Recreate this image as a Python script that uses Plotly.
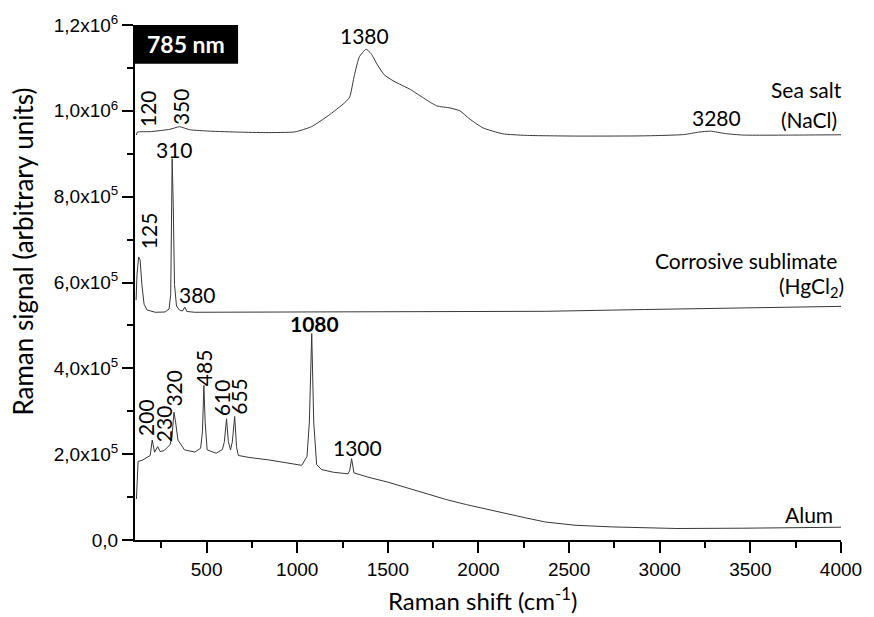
import plotly.graph_objects as go

# ---- Raman spectra (785 nm excitation), offset for display ----
sea_salt_shift = [113, 118, 189, 298, 350, 407, 516, 680, 827, 989, 1080, 1171, 1262, 1289,
                  1316, 1343, 1380, 1407, 1443, 1480, 1534, 1625, 1698, 1770, 1843, 1897,
                  1952, 2025, 2134, 2261, 2534, 2915, 3133, 3215, 3280, 3362, 3460, 3733, 4000]
sea_salt_signal = [943500, 950400, 951500, 957000, 963000, 956000, 952700, 950400, 949300,
                   951000, 963500, 988600, 1019000, 1032000, 1084000, 1126000, 1143500,
                   1133600, 1106800, 1084000, 1068800, 1049600, 1029500, 1011500, 1006700,
                   1000100, 980900, 960200, 946500, 942800, 941200, 941700, 944700, 950400,
                   952700, 947000, 943500, 943500, 944200]

hgcl2_shift = [111, 116, 125, 133, 143, 155, 172, 217, 271, 293, 302, 306, 310, 316, 323,
               334, 350, 367, 380, 391, 435, 1007, 1552, 2370, 2915, 3460, 4000]
hgcl2_signal = [558800, 618300, 659500, 652700, 595400, 549600, 535900, 530600, 531300,
                538200, 572500, 709900, 888500, 778600, 595400, 545000, 535900, 533600,
                542700, 532500, 530600, 531300, 532500, 532900, 537000, 540500, 544400]

alum_shift = [113, 122, 144, 189, 200, 213, 230, 244, 266, 298, 309, 320, 329, 342, 378,
              435, 467, 477, 485, 492, 503, 553, 587, 598, 610, 620, 632, 642, 655, 665,
              675, 734, 843, 953, 1025, 1054, 1067, 1080, 1091, 1107, 1134, 1198, 1280,
              1290, 1300, 1313, 1389, 1498, 1607, 1716, 1825, 1934, 2097, 2261, 2370,
              2533, 2735, 3095, 3460, 4000]
alum_signal = [95600, 183200, 185500, 197000, 232900, 204500, 217600, 206100, 208400,
               222100, 240500, 297700, 274800, 232900, 210000, 205000, 213700, 251900,
               360200, 274800, 210000, 202200, 210700, 229000, 282400, 229000, 210000,
               229000, 287900, 217600, 197000, 192400, 186600, 179800, 174000, 194700,
               274800, 480900, 274800, 175700, 164200, 158000, 154100, 162600, 189400,
               156400, 146600, 135100, 121400, 106900, 93900, 82400, 66400, 51500, 41900,
               34400, 30500, 26800, 27500, 29800]

x_tick_values = [500, 1000, 1500, 2000, 2500, 3000, 3500, 4000]
x_tick_labels = ["500", "1000", "1500", "2000", "2500", "3000", "3500", "4000"]
y_tick_values = [0, 200000, 400000, 600000, 800000, 1000000, 1200000]
y_tick_labels = ["0,0", "2,0x10<sup>5</sup>", "4,0x10<sup>5</sup>", "6,0x10<sup>5</sup>",
                 "8,0x10<sup>5</sup>", "1,0x10<sup>6</sup>", "1,2x10<sup>6</sup>"]

LINE = dict(color="#383838", width=1.0)
LABEL_FONT = dict(family="Lato, 'Open Sans', sans-serif", size=21, color="black")
TICK_FONT = dict(family="'Liberation Sans', Arial, sans-serif", size=19, color="black")

fig = go.Figure()
fig.add_trace(go.Scatter(x=sea_salt_shift, y=sea_salt_signal, mode="lines",
                         line=dict(shape="spline", smoothing=0.5, **LINE), hoverinfo="skip"))
fig.add_trace(go.Scatter(x=hgcl2_shift, y=hgcl2_signal, mode="lines", line=LINE,
                         hoverinfo="skip"))
fig.add_trace(go.Scatter(x=alum_shift, y=alum_signal, mode="lines", line=LINE,
                         hoverinfo="skip"))

# peak labels: (text, x, y, angle)
peak_annotations = [
    ("1380", 1370, 1175000, 0),
    ("120", 171, 1006500, -90),
    ("350", 353, 1011000, -90),
    ("3280", 3313, 984700, 0),
    ("310", 323, 910300, 0),
    ("125", 184, 720200, -90),
    ("380", 448, 572500, 0),
    ("200", 162, 285100, -90),
    ("230", 263, 271400, -90),
    ("320", 317, 353800, -90),
    ("485", 484, 401900, -90),
    ("610", 586, 330900, -90),
    ("655", 672, 335500, -90),
    ("<b>1080</b>", 1097, 505000, 0),
    ("1300", 1334, 216400, 0),
]
annotations = []
for text, x, y, ang in peak_annotations:
    annotations.append(dict(text=text, x=x, y=y, xref="x", yref="y", showarrow=False,
                            textangle=ang, font=LABEL_FONT, xanchor="center",
                            yanchor="middle"))

# sample names, right aligned against the right end of the axis (pixel nudge)
for text, y, nudge in [("Sea salt", 1048900, 3), ("(NaCl)", 980200, -2),
                       ("Corrosive sublimate", 650400, -2),
                       ("(HgCl<sub>2</sub>)", 588600, 5), ("Alum", 58400, -6)]:
    annotations.append(dict(text=text, x=4000, y=y, xref="x", yref="y", showarrow=False,
                            xshift=nudge, font=LABEL_FONT, xanchor="right",
                            yanchor="middle"))

# axis titles
annotations.append(dict(text="Raman signal (arbitrary units)", x=-0.158, y=0.561,
                        xref="paper", yref="paper", showarrow=False, textangle=-90,
                        font=dict(family="Lato, sans-serif", size=26, color="black"),
                        xanchor="center", yanchor="middle"))
annotations.append(dict(text="Raman shift (cm<sup>-1</sup>)", x=0.4916, y=-0.115,
                        xref="paper", yref="paper", showarrow=False,
                        font=dict(family="Lato, sans-serif", size=24, color="black"),
                        xanchor="center", yanchor="middle"))

# excitation wavelength badge
annotations.append(dict(text="<b>785 nm</b>", x=0.0728, y=0.9637, xref="paper",
                        yref="paper", showarrow=False,
                        font=dict(family="Lato, sans-serif", size=23, color="white"),
                        xanchor="center", yanchor="middle"))
shapes = [dict(type="rect", xref="paper", yref="paper", x0=0, x1=0.146, y0=0.925,
               y1=1.0, fillcolor="black", line=dict(width=0), layer="above")]

axis_common = dict(showline=True, linecolor="black", linewidth=2, ticks="outside",
                   ticklen=11, tickwidth=2, tickcolor="black", showgrid=False,
                   zeroline=False, tickfont=TICK_FONT, tickmode="array")

fig.update_layout(
    width=874, height=617, autosize=False,
    margin=dict(l=135, r=25, t=16, b=77),
    paper_bgcolor="white", plot_bgcolor="white",
    showlegend=False,
    xaxis=dict(range=[105, 4000], tickvals=x_tick_values, ticktext=x_tick_labels,
               minor=dict(tickmode="array",
                          tickvals=[250, 750, 1250, 1750, 2250, 2750, 3250, 3750],
                          ticks="outside", ticklen=6, tickwidth=2, tickcolor="black"),
               **axis_common),
    yaxis=dict(range=[0, 1200000], tickvals=y_tick_values, ticktext=y_tick_labels,
               minor=dict(tickmode="array",
                          tickvals=[100000, 300000, 500000, 700000, 900000, 1100000],
                          ticks="outside", ticklen=6, tickwidth=2, tickcolor="black"),
               **axis_common),
    annotations=annotations,
    shapes=shapes,
)

fig.write_html("out.html")
